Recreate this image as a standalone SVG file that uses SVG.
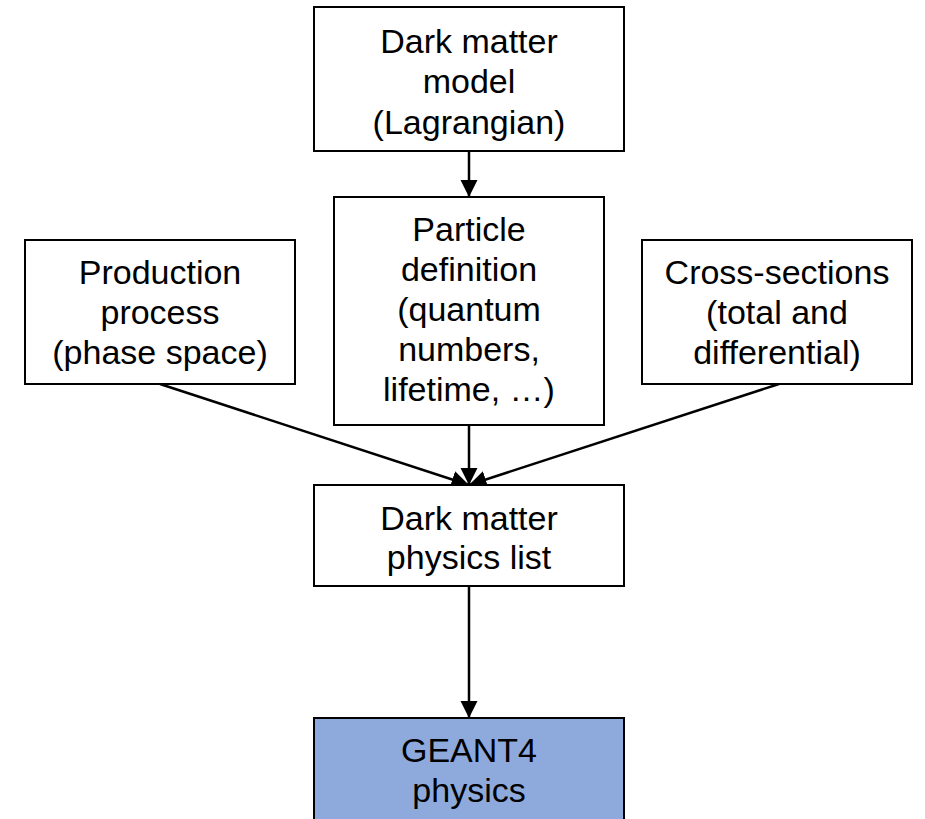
<svg xmlns="http://www.w3.org/2000/svg" width="925" height="819" viewBox="0 0 925 819">
<style>
.box{fill:#ffffff;stroke:#000000;stroke-width:2}
.blue{fill:#8eaadc;stroke:#000000;stroke-width:2}
text{font-family:"Liberation Sans",Arial,sans-serif;font-size:34px;fill:#000000;text-anchor:middle}
.edge{stroke:#000000;stroke-width:2.5;fill:none;marker-end:url(#ah)}
</style>
<defs>
<marker id="ah" viewBox="0 0 10 10" refX="10" refY="5" markerWidth="7" markerHeight="7" markerUnits="strokeWidth" orient="auto">
<path d="M0,0 L10,5 L0,10 z" fill="#000000"/>
</marker>
</defs>
<rect width="925" height="819" fill="#ffffff"/>
<g id="connectors">
<line class="edge" x1="469" y1="151" x2="469" y2="197"/>
<line class="edge" x1="469" y1="425" x2="469" y2="485"/>
<line class="edge" x1="160" y1="384" x2="469" y2="485"/>
<line class="edge" x1="779" y1="384" x2="469" y2="485"/>
<line class="edge" x1="469" y1="586" x2="469" y2="718"/>
</g>
<g id="dm-model">
<rect class="box" x="314" y="7" width="310" height="144"/>
<text x="469" y="53">Dark matter</text>
<text x="469" y="93">model</text>
<text x="469" y="134">(Lagrangian)</text>
</g>
<g id="particle-definition">
<rect class="box" x="334" y="197" width="270" height="228"/>
<text x="469" y="241">Particle</text>
<text x="469" y="281">definition</text>
<text x="469" y="321">(quantum</text>
<text x="469" y="361">numbers,</text>
<text x="469" y="401">lifetime, …)</text>
</g>
<g id="production-process">
<rect class="box" x="25" y="240" width="270" height="144"/>
<text x="160" y="284">Production</text>
<text x="160" y="324">process</text>
<text x="160" y="364">(phase space)</text>
</g>
<g id="cross-sections">
<rect class="box" x="642" y="240" width="270" height="144"/>
<text x="777" y="284">Cross-sections</text>
<text x="777" y="324">(total and</text>
<text x="777" y="364">differential)</text>
</g>
<g id="physics-list">
<rect class="box" x="314" y="485" width="310" height="101"/>
<text x="469" y="530">Dark matter</text>
<text x="469" y="569">physics list</text>
</g>
<g id="geant4">
<rect class="blue" x="314" y="718" width="310" height="110"/>
<text x="469" y="762">GEANT4</text>
<text x="469" y="802">physics</text>
</g>
</svg>
